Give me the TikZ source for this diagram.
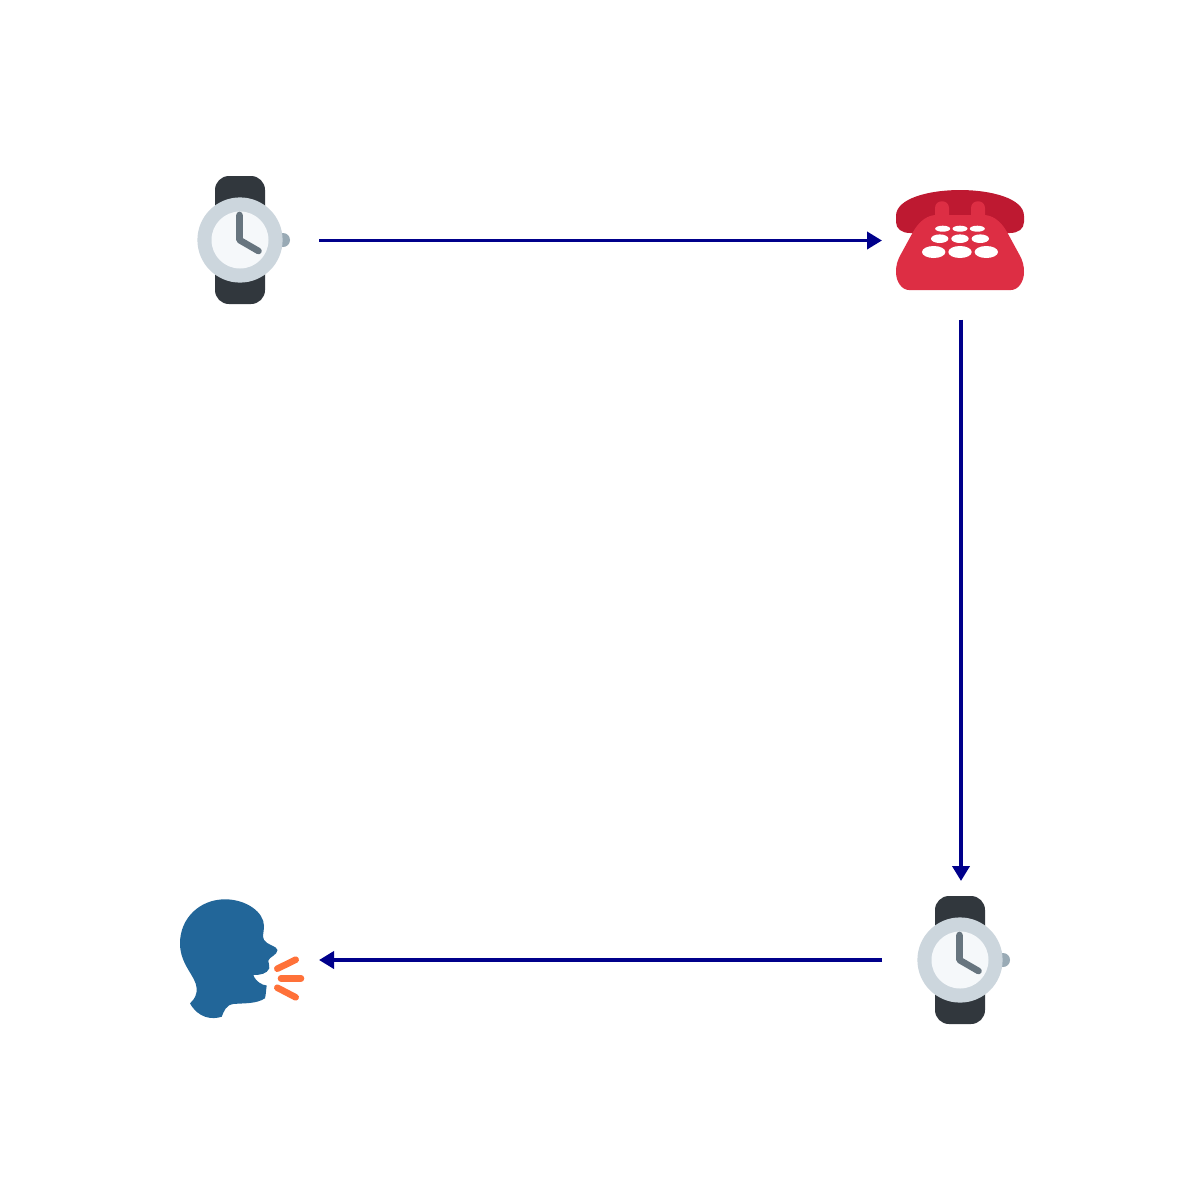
\documentclass[tikz,border=0pt]{standalone}
\usetikzlibrary{arrows.meta}
\definecolor{strap}{HTML}{31373D}
\definecolor{bezel}{HTML}{CCD6DD}
\definecolor{face}{HTML}{F5F8FA}
\definecolor{hands}{HTML}{67757F}
\definecolor{crown}{HTML}{99AAB5}
\definecolor{phonedark}{HTML}{BE1931}
\definecolor{phonelight}{HTML}{DD2E44}
\definecolor{headblue}{HTML}{226699}
\definecolor{voice}{HTML}{FF7139}
\definecolor{arrowblue}{HTML}{00008B}
\tikzset{
  spot/.style={minimum size=158pt,inner sep=0pt,outer sep=0pt},
  link/.style={draw=arrowblue,line width=3.8pt,-{Triangle[length=15pt,width=17pt]}},
  voiceline/.style={draw=voice,line width=6.6pt,line cap=round},
  handline/.style={draw=hands,line width=6.6pt,line cap=round,line join=round},
  pics/watch/.style={code={
    \fill[crown] (43,0) circle (7);
    \fill[strap,rounded corners=14pt] (-25,-64) rectangle (25,64);
    \fill[bezel] (0,0) circle (42.6);
    \fill[face] (0,0) circle (28.5);
    \draw[handline] (-0.5,-25) -- (-0.5,0) -- (18.5,11);
  }}
}
\begin{document}
\begin{tikzpicture}[x=1pt,y=-1pt]
\useasboundingbox[fill=white] (0,0) rectangle (1200,1200);
\node[spot] (watchA) at (240,240.5) {};
\node[spot] (phone) at (961,240.5) {};
\node[spot] (watchB) at (961,960) {};
\node[spot] (speaker) at (240,960) {};
% watches
\pic at (240,240) {watch};
\pic at (960,960) {watch};
% phone
\fill[phonedark] (896,216) .. controls (896,198) and (930,190) .. (960,190)
  .. controls (990,190) and (1024,198) .. (1024,216) -- (1024,222)
  .. controls (1024,229) and (1018,233) .. (1010,233) -- (910,233)
  .. controls (902,233) and (896,229) .. (896,222) -- cycle;
\fill[phonelight] (935,215) -- (935,208) .. controls (935,199) and (949,199) .. (949,208) -- (949,215)
  -- (971,215) -- (971,208) .. controls (971,199) and (985,199) .. (985,208) -- (985,215)
  .. controls (996,216) and (1003,225) .. (1007,232)
  -- (1019,254) .. controls (1023,261) and (1024,266) .. (1024,272)
  .. controls (1024,282) and (1018,290) .. (1011,290)
  -- (909,290) .. controls (902,290) and (896,282) .. (896,272)
  .. controls (896,266) and (897,261) .. (901,254)
  -- (913,232) .. controls (917,225) and (924,216) .. (935,215) -- cycle;
\fill[white]
  (942.7,228.7) ellipse [x radius=7.5,y radius=3]
  (960,228.7) ellipse [x radius=7.5,y radius=3]
  (977.3,228.7) ellipse [x radius=7.5,y radius=3]
  (939.7,238.7) ellipse [x radius=8.7,y radius=4.3]
  (960,238.7) ellipse [x radius=8.7,y radius=4.3]
  (980.3,238.7) ellipse [x radius=8.7,y radius=4.3]
  (933.7,252) ellipse [x radius=11.7,y radius=6]
  (960,252) ellipse [x radius=11.7,y radius=6]
  (986.3,252) ellipse [x radius=11.7,y radius=6];
% speaking head
\fill[headblue] (190,1003.3) .. controls (195,999) and (197,994) .. (196.7,988.3)
  .. controls (196,976) and (180,965) .. (180,943.3)
  .. controls (180,918) and (200,899.3) .. (225,899.3)
  .. controls (246,899.3) and (264,912) .. (264,926)
  .. controls (264,932) and (262,936) .. (264,940)
  .. controls (267,945) and (277,946) .. (277.5,950)
  .. controls (277.5,955) and (269,957) .. (268.3,960.7)
  .. controls (268,963) and (270,965) .. (269.3,968.3)
  .. controls (267,974) and (260,975) .. (253.3,975)
  .. controls (256,982) and (262,985) .. (266.7,985.5)
  .. controls (266,990) and (266,994) .. (265,998.3)
  .. controls (256,1004) and (245,1003) .. (233.3,1004)
  .. controls (226,1005) and (224,1011) .. (221.7,1016.7)
  .. controls (212,1020) and (198,1018) .. (190,1003.3) -- cycle;
\draw[voiceline] (277.3,968.7) -- (295.7,959.7);
\draw[voiceline] (281,978.3) -- (301,978.3);
\draw[voiceline] (277.3,987.7) -- (295.7,997.3);
% connectors
\draw[link] (watchA) -- (phone);
\draw[link] (phone) -- (watchB);
\draw[link] (watchB) -- (speaker);
\end{tikzpicture}
\end{document}
